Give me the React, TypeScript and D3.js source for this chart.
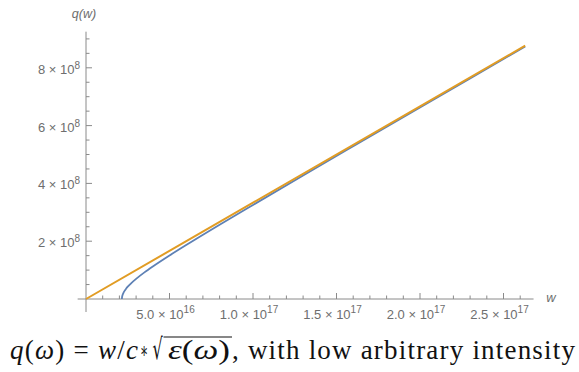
import React from 'react';
import * as d3 from 'd3';

// ---- data ----
const xTickValues = [5e16, 1e17, 1.5e17, 2e17, 2.5e17];
const xTickMantissas = ['5.0', '1.0', '1.5', '2.0', '2.5'];
const xTickExponents = ['16', '17', '17', '17', '17'];
const yTickValues = [2e8, 4e8, 6e8, 8e8];
const yTickMantissas = ['2', '4', '6', '8'];
const yTickExponent = '8';

// blue curve: q(w) with dielectric function
const blueW = [2.15e16, 2.16e16, 2.18e16, 2.2e16, 2.25e16, 2.3e16, 2.4e16, 2.5e16, 2.7e16, 3.0e16, 3.5e16, 4e16, 5e16, 6e16, 8e16, 1e17, 1.3e17, 1.6e17, 2e17, 2.3e17, 2.63e17];
const blueQ = [0, 0.069e8, 0.12e8, 0.155e8, 0.221e8, 0.272e8, 0.356e8, 0.425e8, 0.544e8, 0.697e8, 0.921e8, 1.124e8, 1.505e8, 1.867e8, 2.569e8, 3.255e8, 4.274e8, 5.285e8, 6.628e8, 7.633e8, 8.737e8];
// orange line: q = w/c
const orangeW = [0, 1e17, 2e17, 2.63e17];
const orangeQ = [0, 3.333e8, 6.667e8, 8.767e8];

const xMinor = d3.range(1, 27).map((i) => i * 1e16);
const yMinor = d3.range(1, 19).map((i) => i * 5e7);

const W = 579;
const H = 372;

export default function App() {
  const x = d3.scaleLinear().domain([0, 2.5e17]).range([86, 503.5]);
  const y = d3.scaleLinear().domain([0, 8e8]).range([299, 67.8]);

  const line = d3
    .line<[number, number]>()
    .x((d) => x(d[0]))
    .y((d) => y(d[1]))
    .curve(d3.curveMonotoneY);
  const lineLin = d3
    .line<[number, number]>()
    .x((d) => x(d[0]))
    .y((d) => y(d[1]));

  const blue: [number, number][] = blueW.map((w, i) => [w, blueQ[i]]);
  const orange: [number, number][] = orangeW.map((w, i) => [w, orangeQ[i]]);

  const axisColor = '#8a8a8a';
  const labelColor = '#6e6e6e';
  const sans = "'Liberation Sans', Arial, sans-serif";
  const serifStyle = { fontFamily: "'Liberation Serif', 'DejaVu Serif', serif" };
  const symStyle = { fontFamily: "'DejaVu Serif', serif" };

  const x0 = x(0);
  const y0 = y(0);
  const majorX = new Set(xTickValues.map((v) => Math.round(v / 1e15)));
  const majorY = new Set(yTickValues.map((v) => Math.round(v / 1e6)));

  return (
    <svg width={W} height={H} style={{ position: 'absolute', left: 0, top: 0, background: '#fff' }}>
      {/* axes */}
      <line x1={x(-5e15)} x2={x(2.68e17)} y1={y0} y2={y0} stroke={axisColor} strokeWidth={1} />
      <line x1={x0} x2={x0} y1={y(-4.5e7)} y2={y(9.25e8)} stroke={axisColor} strokeWidth={1} />
      {/* x ticks */}
      {xMinor.map((v) => {
        const major = majorX.has(Math.round(v / 1e15));
        return (
          <line key={'xm' + v} x1={x(v)} x2={x(v)} y1={y0} y2={y0 - (major ? 6 : 3.5)} stroke={axisColor} strokeWidth={1} />
        );
      })}
      {yMinor.map((v) => {
        const major = majorY.has(Math.round(v / 1e6));
        return (
          <line key={'ym' + v} x1={x0} x2={x0 + (major ? 6 : 3.5)} y1={y(v)} y2={y(v)} stroke={axisColor} strokeWidth={1} />
        );
      })}
      {/* x tick labels */}
      {xTickValues.map((v, i) => (
        <text key={'xl' + v} x={x(v) - 4} y={319} textAnchor="middle" fontFamily={sans} fontSize={13} fill={labelColor}>
          {xTickMantissas[i] + ' \u00d7 10'}
          <tspan fontSize={10} dy={-6}>{xTickExponents[i]}</tspan>
        </text>
      ))}
      {/* y tick labels */}
      {yTickValues.map((v, i) => (
        <text key={'yl' + v} x={80} y={y(v) + 6} textAnchor="end" fontFamily={sans} fontSize={13} fill={labelColor}>
          {yTickMantissas[i] + ' \u00d7 10'}
          <tspan fontSize={10} dy={-5}>{yTickExponent}</tspan>
        </text>
      ))}
      {/* axis labels */}
      <text x={84} y={18} textAnchor="middle" fontFamily={sans} fontSize={12.5} fontStyle="italic" fill={labelColor}>
        q(w)
      </text>
      <text x={551} y={302} textAnchor="middle" fontFamily={sans} fontSize={13} fontStyle="italic" fill={labelColor}>
        w
      </text>
      {/* curves */}
      <path d={line(blue) || ''} fill="none" stroke="#5E81B5" strokeWidth={1.8} />
      <path d={lineLin(orange) || ''} fill="none" stroke="#E19C24" strokeWidth={2} />
      {/* caption */}
      <g fill="#111">
        <text x={10} y={359} fontSize={27} style={serifStyle} textLength={128} lengthAdjust="spacing">
          <tspan fontStyle="italic">q</tspan>(<tspan fontStyle="italic">ω</tspan>) = <tspan fontStyle="italic">w</tspan>/<tspan fontStyle="italic">c</tspan>
        </text>
        <g transform="translate(140,358) scale(0.55,1)">
          <text x={0} y={0} fontSize={22} style={symStyle}>∗</text>
        </g>
        <g transform="translate(152.5,359) scale(0.55,1)">
          <text x={0} y={0} fontSize={29} style={symStyle}>√</text>
        </g>
        <line x1={163.5} x2={232} y1={337} y2={337} stroke="#111" strokeWidth={1.2} />
        <text x={168} y={359} fontSize={27} style={serifStyle} textLength={62} lengthAdjust="spacingAndGlyphs">
          <tspan fontStyle="italic">ε</tspan>(<tspan fontStyle="italic">ω</tspan>)
        </text>
        <text x={232} y={359} fontSize={27} style={serifStyle} textLength={343} lengthAdjust="spacing">
          , with low arbitrary intensity
        </text>
      </g>
    </svg>
  );
}
